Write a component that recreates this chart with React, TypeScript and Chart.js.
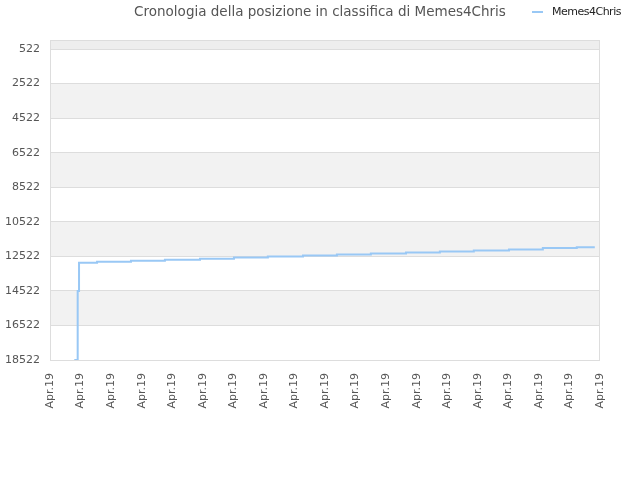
import React, { useEffect, useRef } from 'react'
import { Chart, registerables } from 'chart.js'

Chart.register(...registerables)

const TITLE = 'Cronologia della posizione in classifica di Memes4Chris'
const SERIES_NAME = 'Memes4Chris'

// x positions of the rank changes (axis units, one unit per tick)
const timePoints = [
  0.795, 0.906, 0.95, 1.54, 2.65, 3.76, 4.91, 6.02, 7.13, 8.28, 9.39, 10.5,
  11.65, 12.76, 13.87, 15.02, 16.13, 17.24, 17.83,
]
// rank held from each point onward
const ranks = [
  18522, 14522, 12891, 12833, 12775, 12717, 12659, 12583, 12525, 12467, 12409,
  12351, 12293, 12235, 12177, 12119, 12037, 12002, 12002,
]
const tickLabels = Array(19).fill('Apr.19')
const rankTicks = [522, 2522, 4522, 6522, 8522, 10522, 12522, 14522, 16522, 18522]

const bandsPlugin = {
  id: 'bands',
  beforeDraw(chart: any) {
    const { ctx, chartArea } = chart
    const y = chart.scales.y
    const edges = [0, ...rankTicks]
    ctx.save()
    for (let i = 0; i < edges.length - 1; i++) {
      if (i % 2 === 1) continue
      const top = y.getPixelForValue(edges[i])
      const bottom = y.getPixelForValue(edges[i + 1])
      ctx.fillStyle = i === 0 ? '#eeeeee' : '#f2f2f2'
      ctx.fillRect(chartArea.left, top, chartArea.right - chartArea.left, bottom - top)
    }
    ctx.strokeStyle = '#dddddd'
    ctx.lineWidth = 1
    ctx.strokeRect(
      chartArea.left + 0.5,
      chartArea.top + 0.5,
      chartArea.right - chartArea.left - 1,
      chartArea.bottom - chartArea.top
    )
    ctx.restore()
  },
}

export default function App() {
  const canvasRef = useRef<HTMLCanvasElement>(null)
  const chartRef = useRef<Chart | null>(null)

  useEffect(() => {
    if (!canvasRef.current) return
    if (chartRef.current) chartRef.current.destroy()
    chartRef.current = new Chart(canvasRef.current, {
      type: 'line',
      data: {
        datasets: [
          {
            label: SERIES_NAME,
            data: timePoints.map((t, i) => ({ x: t, y: ranks[i] })),
            borderColor: 'rgb(153, 200, 245)',
            borderWidth: 2,
            pointRadius: 0,
            stepped: 'before',
            fill: false,
          },
        ],
      },
      options: {
        animation: false,
        responsive: false,
        plugins: {
          legend: { display: false },
          tooltip: { enabled: false },
          title: {
            display: true,
            text: TITLE,
            color: '#555555',
            font: { family: 'DejaVu Sans', size: 13.5, weight: 'normal' },
            padding: { top: 4, bottom: 19.8 },
          },
        },
        scales: {
          x: {
            type: 'linear',
            min: 0,
            max: 18,
            afterBuildTicks: (scale: any) => {
              scale.ticks = tickLabels.map((_, i) => ({ value: i }))
            },
            afterFit: (scale: any) => {
              scale.height = 120
            },
            grid: { display: false },
            border: { display: false },
            ticks: {
              minRotation: 90,
              maxRotation: 90,
              autoSkip: false,
              color: '#555555',
              font: { family: 'DejaVu Sans', size: 11 },
              padding: 5,
              callback: (v: any) => tickLabels[Math.round(Number(v))] ?? '',
            },
          },
          y: {
            type: 'linear',
            reverse: true,
            min: 0,
            max: 18522,
            afterBuildTicks: (scale: any) => {
              scale.ticks = rankTicks.map((v) => ({ value: v }))
            },
            afterFit: (scale: any) => {
              scale.width = 50
            },
            grid: { color: '#dddddd', drawTicks: false },
            border: { display: false },
            ticks: {
              color: '#555555',
              font: { family: 'DejaVu Sans', size: 11 },
              padding: 10,
              callback: (v: any) => String(v),
            },
          },
          // empty right-hand axis that only keeps the right margin
          yRight: {
            type: 'linear',
            position: 'right',
            display: true,
            afterFit: (scale: any) => {
              scale.width = 40
            },
            grid: { display: false },
            border: { display: false },
            ticks: { display: false },
          },
        },
      },
      plugins: [bandsPlugin],
    })
    return () => {
      if (chartRef.current) {
        chartRef.current.destroy()
        chartRef.current = null
      }
    }
  }, [])

  return (
    <div style={{ position: 'absolute', left: 0, top: 0, width: 640, height: 480, background: '#fff' }}>
      <canvas ref={canvasRef} width={640} height={480} />
      <div
        style={{
          position: 'absolute',
          left: 532,
          top: 5,
          display: 'flex',
          alignItems: 'center',
          fontFamily: 'DejaVu Sans',
          fontSize: 11,
          letterSpacing: -0.5,
          color: '#222',
        }}
      >
        <span style={{ display: 'inline-block', width: 11, height: 2, background: 'rgb(153, 200, 245)', marginRight: 9 }} />
        <span>{SERIES_NAME}</span>
      </div>
    </div>
  )
}
